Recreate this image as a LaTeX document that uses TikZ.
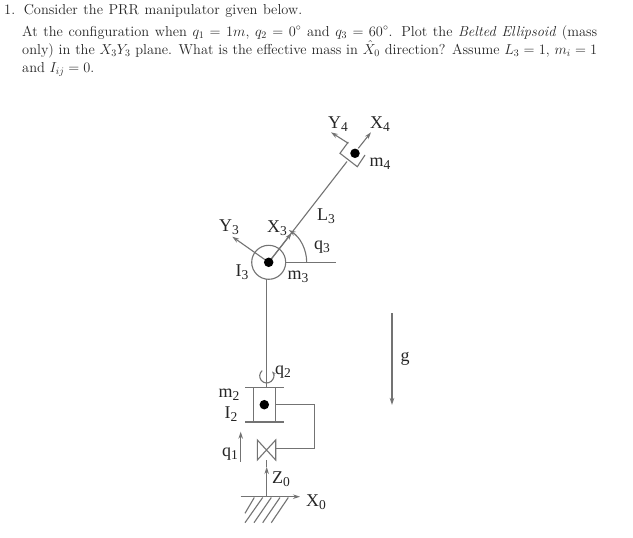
\documentclass[tikz,border=0pt]{standalone}
\usepackage{fontspec}
\newfontfamily\labfont{Liberation Serif}
\usetikzlibrary{arrows.meta}
\definecolor{ln}{gray}{0.45}
\newcommand{\subdig}[1]{\raisebox{-3.5pt}{\fontsize{13.5}{14}\selectfont #1}}
\tikzset{
  lnk/.style={draw=ln,line width=1.1pt},
  arr/.style={lnk,-{Stealth[length=7pt,width=4.5pt]}},
  lab/.style={inner sep=0pt,text=black!85,font=\labfont\fontsize{18}{20}\selectfont},
  txt/.style={inner sep=0pt,anchor=base west,text=black!85,font=\fontsize{14.4}{17}\selectfont},
  jdot/.style={circle,fill=black,inner sep=0pt,minimum size=9.5pt}
}
\begin{document}
\begin{tikzpicture}[x=1pt,y=-1pt]
\useasboundingbox (0,0) rectangle (633,538);
\fill[white] (0,0) rectangle (633,538);
% text
\node[txt] (t1) at (4,14) {\makebox[298pt][s]{1.\hspace{0.6em}Consider the PRR manipulator given below.}};
\node[txt] (t2) at (22,36) {\makebox[575pt][s]{At the configuration when $q_1=1m$, $q_2=0^\circ$ and $q_3=60^\circ$. Plot the \textit{Belted Ellipsoid} (mass}};
\node[txt] (t3) at (22,54) {\makebox[575pt][s]{only) in the $X_3Y_3$ plane. What is the effective mass in $\hat{X}_0$ direction? Assume $L_3=1$, $m_i=1$}};
\node[txt] (t4) at (22,72) {and $I_{ij}=0$.};
% coordinates
\coordinate (c3) at (268.7,262.3);
\coordinate (c4) at (355,153.3);
\coordinate (linkend) at (347,161.5);
\coordinate (x3tip) at (291.7,233);
\coordinate (y3tip) at (232.3,236.7);
\coordinate (hz) at (336,262.3);
\coordinate (base) at (266.7,496.7);
\coordinate (groundL) at (240.7,496.7);
\coordinate (groundR) at (300,496.7);
% joint 3
\node[circle,lnk,fill=white,minimum size=34pt,inner sep=0pt] (j3) at (c3) {};
\draw[lnk] (j3.center) -- (linkend);
\draw[arr] (j3.center) -- (x3tip);
\draw[arr] (j3.center) -- (y3tip);
\draw[lnk] (j3.east) -- (hz);
\draw[arr] (306.7,262.3) arc[start angle=0,end angle=58,x radius=38,y radius=-38];
\node[jdot] (d3) at (c3) {};
% end effector
\draw[lnk] (348.3,142) -- (340,153.3) -- (357.3,166.7) -- (365,155);
\node[jdot] (d4) at (c4) {};
\draw[arr] (348.3,143.3) -- (331,132.3);
\draw[arr] (358.3,148.3) -- (371,132.3);
% column
\coordinate (colb) at (266.7,388);
\draw[lnk] (266.7,279) -- (colb);
\draw[lnk] (245,387.3) -- (284,387.3);
\draw[lnk] (245,422) -- (284,422);
\draw[lnk] (253.7,387.3) -- (253.7,422);
\draw[lnk] (275.7,387.3) -- (275.7,422);
\node[jdot] (d2) at (264.3,404.7) {};
\draw[lnk] (275.7,404.7) -- (314.7,404.7) -- (314.7,448.3) -- (275.7,448.3);
\draw[lnk] (257.3,440) -- (275.7,460) -- (275.7,440) -- (257.3,460) -- cycle;
\draw[arr] (base) -- (266.7,467);
\draw[lnk] (266.7,467) -- (266.7,460);
\draw[arr] (groundL) -- (groundR);
\foreach \a/\b/\c/\d in {245/513.3/254.3/497.5, 245/522.7/262.7/497.5, 254/522.7/271.3/497.5, 262.7/522.7/280/497.5, 271.3/522.7/288.3/497.5}
  \draw[lnk] (\a,\b) -- (\c,\d);
% q2 arrow
\draw[lnk,-{Stealth[length=4pt,width=3pt]}] (262.2,370.6) arc[start angle=230,end angle=-40,radius=7];
% q1, g
\draw[arr] (240.7,461.7) -- (240.7,431.7);
\draw[arr] (392,313) -- (392,405);
% labels
\node[lab] (lY4) at (338,124) {Y\subdig{4}};
\node[lab] (lX4) at (380,124) {X\subdig{4}};
\node[lab] (lm4) at (380,164) {m\subdig{4}};
\node[lab] (lL3) at (326,216) {L\subdig{3}};
\node[lab] (lq3) at (322,247) {q\subdig{3}};
\node[lab] (lX3) at (277,228) {X\subdig{3}};
\node[lab] (lY3) at (229,227) {Y\subdig{3}};
\node[lab] (lI3) at (242,272) {I\subdig{3}};
\node[lab] (lm3) at (298,277) {m\subdig{3}};
\node[lab] (lq2) at (283,372) {q\subdig{2}};
\node[lab] (lm2) at (229,395) {m\subdig{2}};
\node[lab] (lI2) at (231,414) {I\subdig{2}};
\node[lab] (lq1) at (230,454) {q\subdig{1}};
\node[lab] (lZ0) at (281,479) {Z\subdig{0}};
\node[lab] (lX0) at (316,502) {X\subdig{0}};
\node[lab] (lg) at (405,359) {g};
\end{tikzpicture}
\end{document}
